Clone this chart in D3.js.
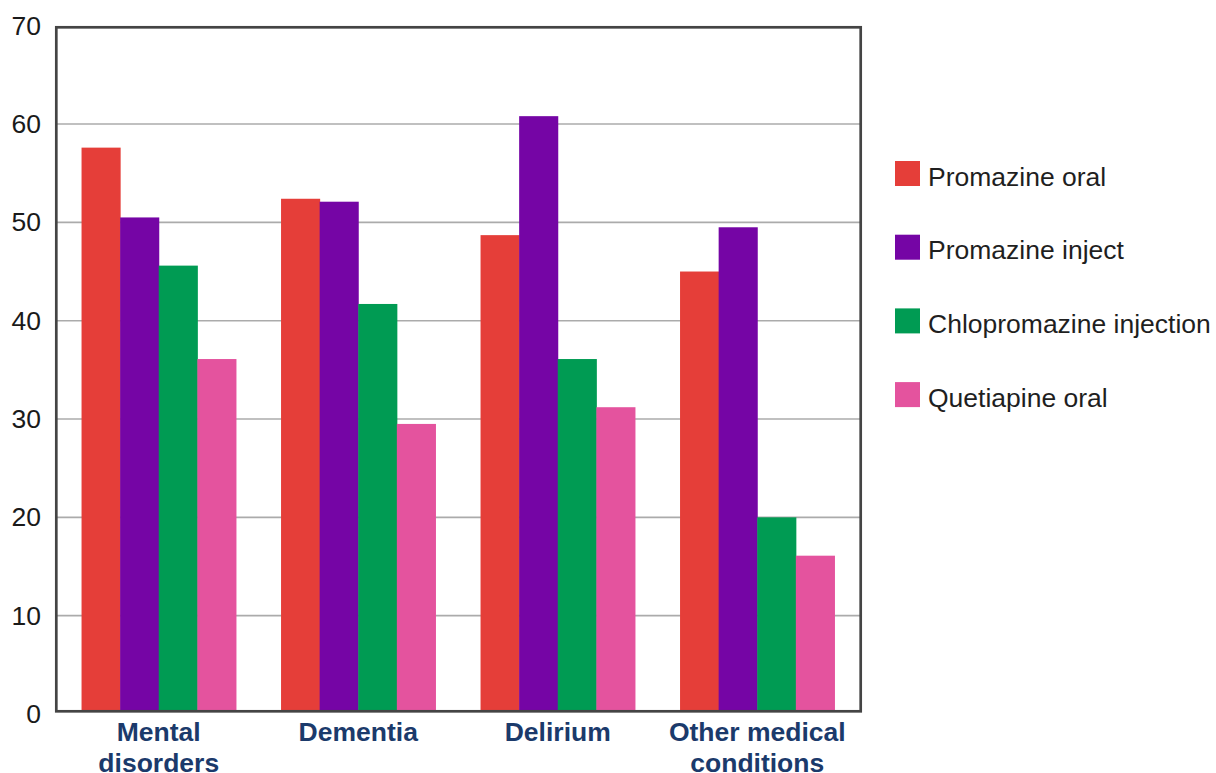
<!DOCTYPE html>
<html>
<head>
<meta charset="utf-8">
<script src="https://cdn.jsdelivr.net/npm/d3@7/dist/d3.min.js"></script>
<style>
  html, body { margin: 0; padding: 0; background: #fff; }
  svg { display: block; }
</style>
</head>
<body>
<svg id="chart" width="1216" height="773"></svg>
<script>
// Categories and series
const categories = [["Mental", "disorders"], ["Dementia"], ["Delirium"], ["Other medical", "conditions"]];
const seriesNames = ["Promazine oral", "Promazine inject", "Chlopromazine injection", "Quetiapine oral"];
const seriesColors = ["#E53E39", "#7505A5", "#009B53", "#E4539E"];

const promazineOral = [57.6, 52.4, 48.7, 45.0];
const promazineInject = [50.5, 52.1, 60.8, 49.5];
const chlopromazineInjection = [45.6, 41.7, 36.1, 20.0];
const quetiapineOral = [36.1, 29.5, 31.2, 16.1];

const yTicks = [0, 10, 20, 30, 40, 50, 60, 70];

const series = [promazineOral, promazineInject, chlopromazineInjection, quetiapineOral];

const FONT = "'Liberation Sans', Arial, Helvetica, sans-serif";

const svg = d3.select("#chart");

// Plot frame
const frame = { left: 56.3, right: 860.7, top: 27.3, bottom: 711.3 };

const y = d3.scaleLinear().domain([0, 70]).range([714, 25.7]);

const catKeys = categories.map(c => c.join(" "));
const x0 = d3.scaleBand()
  .domain(catKeys)
  .range([59, 857])
  .paddingInner(0.226)
  .paddingOuter(0.113);

const x1 = d3.scaleBand()
  .domain(d3.range(seriesNames.length))
  .range([0, x0.bandwidth()]);

// Horizontal gridlines
svg.append("g")
  .selectAll("line")
  .data(yTicks.filter(t => t > 0 && t < 70))
  .join("line")
  .attr("x1", frame.left)
  .attr("x2", frame.right)
  .attr("y1", d => y(d))
  .attr("y2", d => y(d))
  .attr("stroke", "#ababab")
  .attr("stroke-width", 1.6);

// Bars (cut off at the frame's bottom edge)
const groups = svg.append("g")
  .selectAll("g")
  .data(catKeys)
  .join("g")
  .attr("transform", d => `translate(${x0(d)},0)`);

groups.selectAll("rect")
  .data((d, i) => series.map((s, j) => ({ j, v: s[i] })))
  .join("rect")
  .attr("x", d => x1(d.j))
  .attr("width", x1.bandwidth() + 0.5)
  .attr("y", d => y(d.v))
  .attr("height", d => frame.bottom - y(d.v))
  .attr("fill", d => seriesColors[d.j]);

// Frame
svg.append("rect")
  .attr("x", frame.left)
  .attr("y", frame.top)
  .attr("width", frame.right - frame.left)
  .attr("height", frame.bottom - frame.top)
  .attr("fill", "none")
  .attr("stroke", "#444")
  .attr("stroke-width", 2.7);

// Y tick labels
const yAxis = d3.axisLeft(y).tickValues(yTicks).tickSize(0).tickPadding(0);
const yg = svg.append("g")
  .attr("transform", "translate(41,0)")
  .call(yAxis);
yg.select(".domain").remove();
yg.selectAll("text")
  .attr("font-family", FONT)
  .attr("font-size", 26.5)
  .attr("fill", "#1a1a1a");

// Category labels
const labelG = svg.append("g");
categories.forEach((lines, i) => {
  const cx = x0(catKeys[i]) + x0.bandwidth() / 2;
  const t = labelG.append("text")
    .attr("x", cx)
    .attr("y", 740.5)
    .attr("text-anchor", "middle")
    .attr("font-family", FONT)
    .attr("font-weight", "bold")
    .attr("font-size", 26.5)
    .attr("fill", "#1B3A6B");
  lines.forEach((ln, k) => {
    t.append("tspan")
      .attr("x", cx)
      .attr("dy", k === 0 ? 0 : 31)
      .text(ln);
  });
});

// Legend
const legend = svg.append("g")
  .selectAll("g")
  .data(seriesNames)
  .join("g")
  .attr("transform", (d, i) => `translate(895,${161 + i * 73.7})`);

legend.append("rect")
  .attr("width", 25)
  .attr("height", 25)
  .attr("fill", (d, i) => seriesColors[i]);

legend.append("text")
  .attr("x", 33)
  .attr("y", 24.5)
  .attr("font-family", FONT)
  .attr("font-size", 26.5)
  .attr("fill", "#1f1f1f")
  .text(d => d);
</script>
</body>
</html>
